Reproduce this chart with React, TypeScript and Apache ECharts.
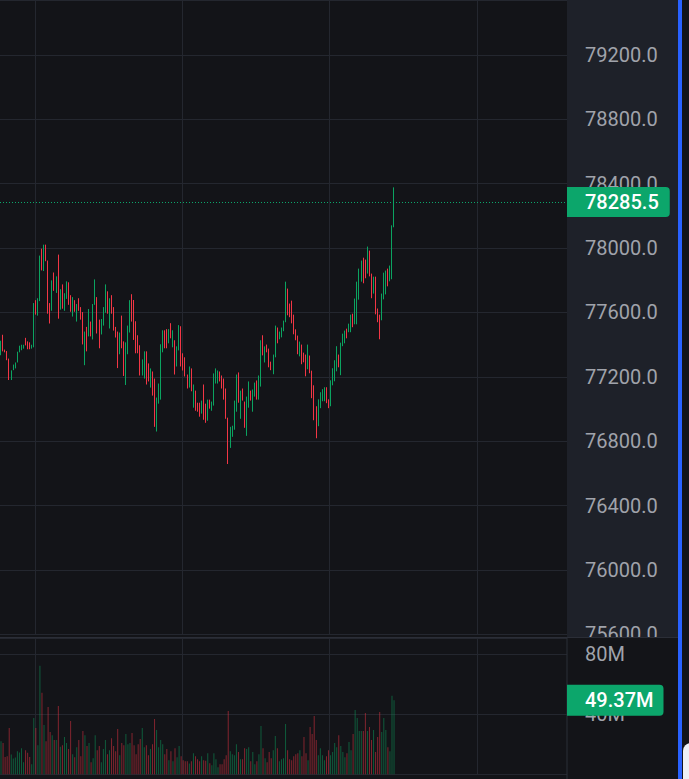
import React, { useEffect, useRef } from 'react';
import * as echarts from 'echarts';

// ---- data ----
const highs = [
  77424, 77461, 77369, 77360, 77313, 77240, 77276, 77289, 77356, 77393,
  77399, 77399, 77442, 77420, 77414, 77399, 77658, 77676, 77688, 77953,
  77996, 78021, 78021, 77922, 77658, 77799, 77848, 77824, 77959, 77744,
  77774, 77719, 77793, 77787, 77707, 77695, 77676, 77652, 77688, 77633,
  77602, 77481, 77510, 77621, 77543, 77652, 77805, 77695, 77555, 77559,
  77633, 77774, 77731, 77688, 77707, 77633, 77510, 77481, 77475, 77580,
  77420, 77414, 77518, 77676, 77713, 77677, 77545, 77458, 77396, 77308,
  77358, 77358, 77283, 77252, 77233, 77189, 77071, 77158, 77402, 77489,
  77489, 77496, 77496, 77533, 77489, 77427, 77389, 77521, 77514, 77346,
  77321, 77214, 77264, 77252, 77152, 77114, 77039, 77039, 77052, 77152,
  77033, 77058, 77058, 77046, 77221, 77252, 77239, 77233, 77208, 77189,
  77127, 76946, 76889, 76896, 77052, 77214, 77227, 77114, 77127, 77046,
  77077, 77171, 77114, 77121, 77164, 77177, 77208, 77427, 77458, 77389,
  77400, 77375, 77294, 77338, 77518, 77506, 77481, 77506, 77549, 77791,
  77748, 77655, 77673, 77586, 77495, 77456, 77419, 77400, 77350, 77338,
  77400, 77332, 77238, 77147, 77017, 77060, 77104, 77123, 77135, 77135,
  77060, 77178, 77253, 77303, 77390, 77338, 77412, 77468, 77487, 77499,
  77530, 77586, 77592, 77686, 77791, 77872, 77922, 77940, 77928, 78009,
  77984, 77841, 77822, 77822, 77624, 77586, 77717, 77847, 77860, 77872,
  77891, 78141, 78377,
];

const lows = [
  77334, 77358, 77352, 77303, 77180, 77180, 77241, 77252, 77289, 77352,
  77365, 77375, 77395, 77371, 77371, 77375, 77383, 77586, 77580, 77670,
  77861, 77857, 77918, 77592, 77531, 77610, 77734, 77721, 77561, 77617,
  77623, 77610, 77684, 77647, 77604, 77574, 77604, 77543, 77610, 77555,
  77401, 77272, 77358, 77451, 77451, 77432, 77647, 77469, 77377, 77463,
  77518, 77598, 77592, 77500, 77592, 77487, 77444, 77254, 77340, 77377,
  77205, 77149, 77340, 77475, 77543, 77429, 77346, 77346, 77208, 77208,
  77189, 77152, 77171, 77133, 77083, 76889, 76860, 77033, 77058, 77352,
  77377, 77377, 77408, 77439, 77383, 77214, 77264, 77364, 77264, 77239,
  77202, 77127, 77133, 77110, 77008, 76989, 76983, 76952, 76971, 76933,
  76914, 76927, 77002, 76989, 77021, 77158, 77158, 77171, 77127, 77058,
  76939, 76658, 76758, 76827, 76871, 76983, 77039, 76939, 77052, 76883,
  76833, 77008, 77052, 76983, 77077, 77058, 77058, 77139, 77333, 77289,
  77352, 77259, 77241, 77216, 77321, 77408, 77433, 77445, 77483, 77539,
  77582, 77570, 77532, 77464, 77427, 77340, 77327, 77278, 77290, 77203,
  77247, 77222, 77067, 76930, 76818, 76893, 77005, 77048, 77048, 77036,
  77005, 77017, 77147, 77172, 77234, 77259, 77210, 77390, 77408, 77439,
  77477, 77477, 77508, 77526, 77526, 77679, 77791, 77781, 77812, 77841,
  77824, 77688, 77717, 77588, 77539, 77433, 77551, 77681, 77712, 77762,
  77793, 77806, 78129,
];

const opens = [
  77334, 77461, 77369, 77360, 77313, 77180, 77241, 77252, 77289, 77352,
  77365, 77375, 77442, 77420, 77414, 77375, 77383, 77676, 77580, 77670,
  77996, 77857, 78021, 77922, 77658, 77610, 77848, 77721, 77959, 77617,
  77774, 77610, 77684, 77787, 77707, 77574, 77676, 77543, 77688, 77633,
  77602, 77272, 77510, 77451, 77543, 77432, 77647, 77695, 77555, 77463,
  77518, 77598, 77731, 77500, 77707, 77633, 77510, 77481, 77340, 77580,
  77420, 77149, 77340, 77475, 77713, 77677, 77545, 77458, 77396, 77208,
  77189, 77358, 77283, 77133, 77233, 77189, 76860, 77033, 77058, 77352,
  77489, 77496, 77408, 77533, 77383, 77427, 77264, 77364, 77514, 77346,
  77321, 77214, 77133, 77252, 77008, 77114, 77039, 77039, 76971, 77152,
  77033, 76927, 77058, 76989, 77021, 77158, 77158, 77233, 77208, 77189,
  77127, 76946, 76758, 76827, 76871, 76983, 77227, 76939, 77127, 77046,
  76833, 77008, 77114, 76983, 77077, 77177, 77058, 77139, 77458, 77289,
  77400, 77375, 77294, 77216, 77321, 77506, 77433, 77445, 77483, 77539,
  77748, 77655, 77673, 77586, 77495, 77456, 77327, 77400, 77350, 77338,
  77247, 77332, 77238, 77147, 77017, 76893, 77005, 77048, 77048, 77135,
  77060, 77017, 77147, 77172, 77234, 77338, 77210, 77390, 77408, 77499,
  77477, 77477, 77592, 77526, 77526, 77679, 77791, 77940, 77928, 77841,
  77984, 77841, 77717, 77822, 77624, 77586, 77551, 77681, 77712, 77872,
  77793, 77806, 78129,
];

const closes = [
  77424, 77358, 77352, 77303, 77180, 77240, 77276, 77289, 77356, 77393,
  77399, 77399, 77395, 77371, 77371, 77399, 77658, 77586, 77688, 77953,
  77861, 78021, 77918, 77592, 77531, 77799, 77734, 77824, 77561, 77744,
  77623, 77719, 77793, 77647, 77604, 77695, 77604, 77652, 77610, 77555,
  77401, 77481, 77358, 77621, 77451, 77652, 77805, 77469, 77377, 77559,
  77633, 77774, 77592, 77688, 77592, 77487, 77444, 77254, 77475, 77377,
  77205, 77414, 77518, 77676, 77543, 77429, 77346, 77346, 77208, 77308,
  77358, 77152, 77171, 77252, 77083, 76889, 77071, 77158, 77402, 77489,
  77377, 77377, 77496, 77439, 77489, 77214, 77389, 77521, 77264, 77239,
  77202, 77127, 77264, 77110, 77152, 76989, 76983, 76952, 77052, 76933,
  76914, 77058, 77002, 77046, 77221, 77252, 77239, 77171, 77127, 77058,
  76939, 76658, 76889, 76896, 77052, 77214, 77039, 77114, 77052, 76883,
  77077, 77171, 77052, 77121, 77164, 77058, 77208, 77427, 77333, 77389,
  77352, 77259, 77241, 77338, 77518, 77408, 77481, 77506, 77549, 77791,
  77582, 77570, 77532, 77464, 77427, 77340, 77419, 77278, 77290, 77203,
  77400, 77222, 77067, 76930, 76818, 77060, 77104, 77123, 77135, 77036,
  77005, 77178, 77253, 77303, 77390, 77259, 77412, 77468, 77487, 77439,
  77530, 77586, 77508, 77686, 77791, 77872, 77922, 77781, 77812, 78009,
  77824, 77688, 77822, 77588, 77539, 77433, 77717, 77847, 77860, 77762,
  77891, 78141, 78285.5,
];

// volume in millions
const volumes = [
  22.1, 20.8, 11.6, 12.1, 30.8, 13.2, 10.5, 11.2, 15.4, 14.5,
  17.4, 8.0, 16.1, 14.3, 11.6, 6.7, 37.5, 30.8, 19.4, 72.4,
  54.3, 32.9, 22.1, 44.9, 28.2, 26.1, 22.8, 22.8, 45.6, 18.3,
  19.4, 24.8, 20.8, 16.8, 35.5, 13.4, 11.4, 18.1, 22.8, 12.1,
  28.8, 26.1, 18.8, 20.8, 8.0, 10.7, 26.1, 16.1, 18.8, 8.0,
  16.8, 22.8, 13.4, 16.1, 24.1, 18.8, 15.4, 30.2, 12.7, 20.8,
  19.4, 26.8, 20.1, 20.8, 27.5, 19.4, 13.4, 20.1, 23.5, 30.8,
  18.1, 19.4, 12.7, 16.8, 20.1, 36.9, 29.5, 18.1, 22.8, 20.1,
  13.4, 16.8, 9.4, 15.4, 8.7, 17.4, 11.4, 18.8, 12.1, 9.4,
  8.7, 8.7, 7.2, 8.7, 14.1, 12.1, 10.1, 8.7, 12.1, 9.4,
  9.0, 14.1, 7.4, 6.0, 14.1, 10.1, 4.7, 6.7, 6.7, 10.1,
  12.7, 42.2, 15.4, 13.4, 12.7, 20.1, 14.8, 10.1, 10.1, 17.4,
  16.8, 18.1, 8.7, 14.8, 6.7, 8.7, 13.4, 32.2, 17.4, 10.7,
  8.0, 14.8, 10.7, 16.1, 25.5, 17.4, 8.7, 10.1, 10.7, 33.5,
  16.1, 10.1, 9.4, 12.1, 13.4, 14.1, 16.1, 12.1, 24.8, 14.1,
  9.4, 31.5, 26.8, 38.9, 22.8, 12.7, 17.4, 12.7, 9.4, 12.1,
  16.1, 12.7, 14.8, 20.8, 18.1, 26.1, 18.8, 14.8, 11.4, 14.1,
  21.5, 16.1, 26.8, 42.9, 37.5, 28.8, 28.8, 28.8, 40.9, 28.8,
  31.5, 22.8, 29.5, 14.8, 24.8, 41.6, 28.2, 37.5, 29.5, 18.1,
  15.4, 52.3, 49.37,
];

const lastPrice = 78285.5;
const lastVolume = 49.37;
const slotCount = 277; // bar slots across the visible time range (empty on the right)
const timeGridSlots = [17, 89, 161, 233];

// ---- styling ----
const BG = '#131418';
const PANEL = '#1e2129';
const GRID = '#24272f';
const SEP = '#2b2e37';
const UP = '#0ba360';
const DOWN = '#f23645';
const VOL_UP = 'rgba(11,163,96,0.5)';
const VOL_DOWN = 'rgba(242,54,69,0.5)';
const LABEL = '#a0a3ab';
const BADGE = '#0ca66b';
const FONT = 'Roboto, "Noto Sans", sans-serif';

export default function App() {
  const ref = useRef<HTMLDivElement>(null);

  useEffect(() => {
    if (!ref.current) return;
    const chart = echarts.init(ref.current, null, { renderer: 'svg' });
    const n = Math.min(opens.length, closes.length, lows.length, highs.length, volumes.length);
    const categories = Array.from({ length: slotCount }, (_, i) => 'b' + i);
    const candleData = [] as any[];
    const volData = [] as any[];
    for (let i = 0; i < n; i++) {
      candleData.push([opens[i], closes[i], lows[i], highs[i]]);
      volData.push({
        value: volumes[i],
        itemStyle: { color: closes[i] >= opens[i] ? VOL_UP : VOL_DOWN },
      });
    }

    const xAxisBase = (gridIndex: number) => ({
      type: 'category',
      gridIndex,
      data: categories,
      boundaryGap: true,
      axisLine: { show: false },
      axisTick: { show: false },
      axisLabel: { show: false },
      splitLine: {
        show: true,
        interval: (index: number) => timeGridSlots.indexOf(index) >= 0,
        lineStyle: { color: GRID, width: 1 },
      },
    });

    const badgeLabel = (text: string, padding: number[]) => ({
      show: true,
      position: 'end',
      distance: 0,
      formatter: () => text,
      color: '#ffffff',
      fontSize: 20,
      fontWeight: 500,
      fontFamily: FONT,
      lineHeight: 20,
      backgroundColor: BADGE,
      padding,
      borderRadius: [0, 4, 4, 0],
    });

    const option: any = {
      animation: false,
      backgroundColor: BG,
      grid: [
        { left: 0, right: 122, top: 0, bottom: 144.7 },
        { left: 0, right: 122, top: 638, bottom: 4.7 },
      ],
      xAxis: [xAxisBase(0), xAxisBase(1)],
      yAxis: [
        {
          type: 'value',
          gridIndex: 0,
          position: 'right',
          min: 75600,
          max: 79541,
          interval: 400,
          z: 3,
          axisLine: { show: false },
          axisTick: { show: false },
          axisLabel: {
            margin: 18,
            color: LABEL,
            fontSize: 20,
            fontFamily: FONT,
            formatter: (v: number) => (Math.round(v) % 400 === 0 ? v.toFixed(1) : ''),
          },
          splitLine: { show: true, lineStyle: { color: GRID, width: 1 } },
        },
        {
          type: 'value',
          gridIndex: 1,
          position: 'right',
          min: 0,
          max: 90.87,
          interval: 40,
          z: 6,
          axisLine: { show: false },
          axisTick: { show: false },
          axisLabel: {
            margin: 18,
            color: LABEL,
            fontSize: 20,
            fontFamily: FONT,
            formatter: (v: number) => (v > 0 && Math.abs(v % 40) < 1e-6 ? v + 'M' : ''),
          },
          splitLine: { show: true, lineStyle: { color: GRID, width: 1 } },
        },
      ],
      graphic: [
        { type: 'rect', z: 1, silent: true, shape: { x: 567, y: 0, width: 111, height: 637.5 }, style: { fill: PANEL } },
        { type: 'rect', z: 4, silent: true, shape: { x: 567, y: 637.5, width: 111, height: 141.5 }, style: { fill: BG } },
        { type: 'line', z: 7, silent: true, shape: { x1: 0, y1: 637.5, x2: 678, y2: 637.5 }, style: { stroke: SEP, lineWidth: 1 } },
        { type: 'line', z: 7, silent: true, shape: { x1: 567, y1: 637.5, x2: 567, y2: 779 }, style: { stroke: SEP, lineWidth: 1 } },
        { type: 'rect', z: 7, silent: true, shape: { x: 678, y: 0, width: 4, height: 779 }, style: { fill: '#2962ff' } },
        { type: 'rect', z: 7, silent: true, shape: { x: 683, y: 743, width: 20, height: 50, r: 8 }, style: { fill: '#eef1f6' } },
      ],
      series: [
        {
          type: 'candlestick',
          xAxisIndex: 0,
          yAxisIndex: 0,
          data: candleData,
          barWidth: 0.2,
          clip: false,
          z: 5,
          itemStyle: {
            color: UP,
            color0: DOWN,
            borderColor: UP,
            borderColor0: DOWN,
            borderWidth: 1,
          },
          markLine: {
            silent: true,
            z: 10,
            symbol: ['none', 'none'],
            animation: false,
            lineStyle: { color: BADGE, type: [1, 2], width: 1 },
            label: badgeLabel(lastPrice.toFixed(1), [5, 11, 5, 18]),
            data: [{ yAxis: lastPrice }],
          },
        },
        {
          type: 'bar',
          xAxisIndex: 1,
          yAxisIndex: 1,
          data: volData,
          barWidth: 1,
          clip: false,
          z: 8,
          markLine: {
            silent: true,
            z: 10,
            symbol: ['none', 'none'],
            animation: false,
            lineStyle: { color: 'rgba(0,0,0,0)', width: 1, type: 'solid' },
            label: badgeLabel(lastVolume.toFixed(2) + 'M', [6, 10, 5, 18]),
            data: [{ yAxis: lastVolume }],
          },
        },
      ],
    };

    chart.setOption(option);
    return () => {
      chart.dispose();
    };
  }, []);

  return (
    <div
      ref={ref}
      style={{ position: 'fixed', left: 0, top: 0, width: 689, height: 779, background: BG }}
    />
  );
}
